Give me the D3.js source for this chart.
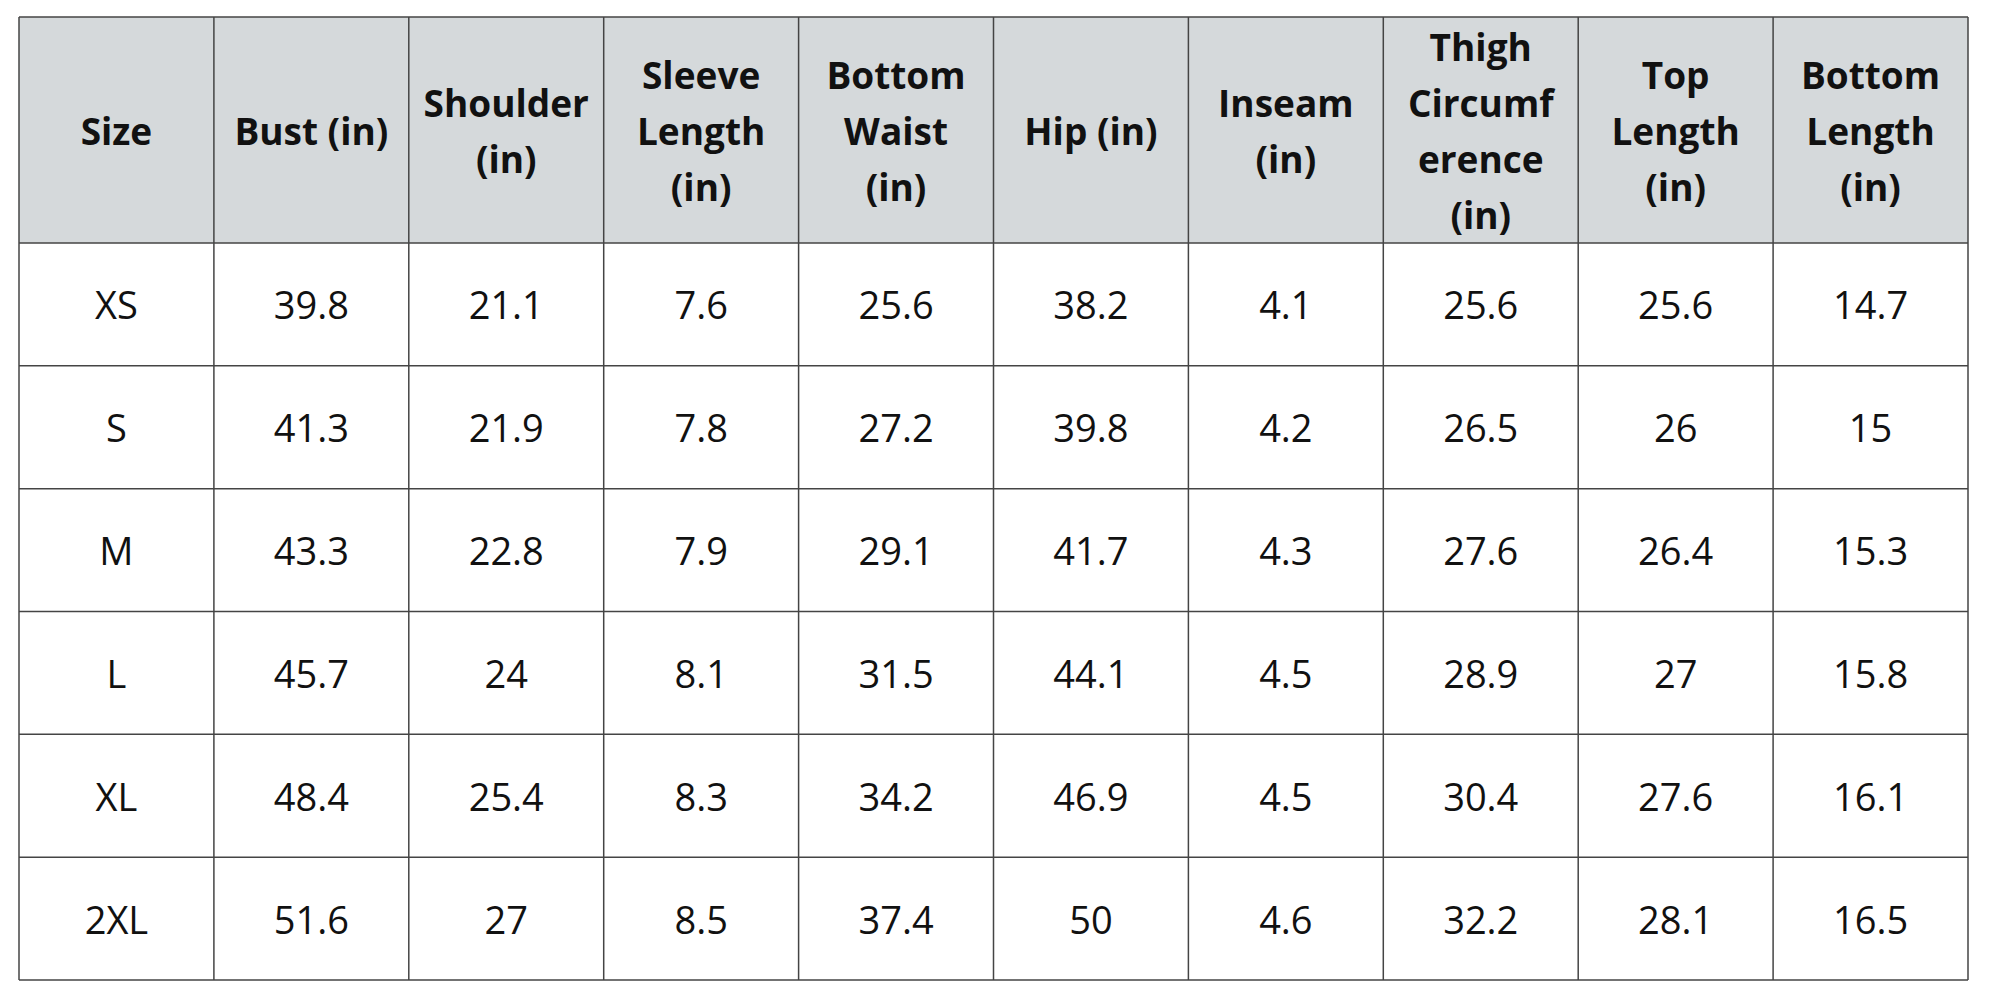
<!DOCTYPE html>
<html><head><meta charset="utf-8">
<script src="https://cdn.jsdelivr.net/npm/d3@7"></script>
<style>body{margin:0;background:#fff}</style></head>
<body><svg id="c" width="2000" height="1000"></svg>
<script>
const headers = [["Size"],["Bust (in)"],["Shoulder","(in)"],["Sleeve","Length","(in)"],["Bottom","Waist","(in)"],["Hip (in)"],["Inseam","(in)"],["Thigh","Circumf","erence","(in)"],["Top","Length","(in)"],["Bottom","Length","(in)"]];
const sizes = ["XS","S","M","L","XL","2XL"];
const bust = ["39.8","41.3","43.3","45.7","48.4","51.6"];
const shoulder = ["21.1","21.9","22.8","24","25.4","27"];
const sleeve = ["7.6","7.8","7.9","8.1","8.3","8.5"];
const waist = ["25.6","27.2","29.1","31.5","34.2","37.4"];
const hip = ["38.2","39.8","41.7","44.1","46.9","50"];
const inseam = ["4.1","4.2","4.3","4.5","4.5","4.6"];
const thigh = ["25.6","26.5","27.6","28.9","30.4","32.2"];
const topLen = ["25.6","26","26.4","27","27.6","28.1"];
const bottomLen = ["14.7","15","15.3","15.8","16.1","16.5"];

const cols = [sizes,bust,shoulder,sleeve,waist,hip,inseam,thigh,topLen,bottomLen];
const svg = d3.select("#c");
const L=19,R=1968,T=17,HB=243,B=980;
const x = d3.scaleBand().domain(d3.range(cols.length)).range([L,R]);
const y = d3.scaleBand().domain(d3.range(sizes.length)).range([HB,B]);
const font = "'Open Sans', sans-serif";

svg.append("rect").attr("x",L).attr("y",T).attr("width",R-L).attr("height",HB-T).attr("fill","#d5d9db");
headers.forEach((lines,i)=>{
  const cx = x(i)+x.bandwidth()/2, cy=(T+HB)/2, lh=56;
  const t = svg.append("text").attr("text-anchor","middle").attr("font-family",font)
    .attr("font-weight","bold").attr("font-size",37).attr("fill","#111");
  lines.forEach((s,k)=>t.append("tspan").attr("x",cx)
    .attr("y",cy+(k-(lines.length-1)/2)*lh).attr("dominant-baseline","central").text(s));
});
cols.forEach((col,i)=>col.forEach((v,r)=>{
  svg.append("text").attr("x",x(i)+x.bandwidth()/2).attr("y",y(r)+y.bandwidth()/2)
    .attr("text-anchor","middle").attr("dominant-baseline","central")
    .attr("font-family",font).attr("font-size",38).attr("fill","#111").text(v);
}));
const g = svg.append("g").attr("stroke","#444").attr("stroke-width",1.5);
d3.range(cols.length+1).forEach(i=>{
  const xx = i<cols.length ? x(i) : R;
  g.append("line").attr("x1",xx).attr("x2",xx).attr("y1",T).attr("y2",B);
});
[T,HB,...d3.range(1,sizes.length).map(r=>y(r)),B].forEach(yy=>
  g.append("line").attr("x1",L).attr("x2",R).attr("y1",yy).attr("y2",yy));
</script></body></html>
